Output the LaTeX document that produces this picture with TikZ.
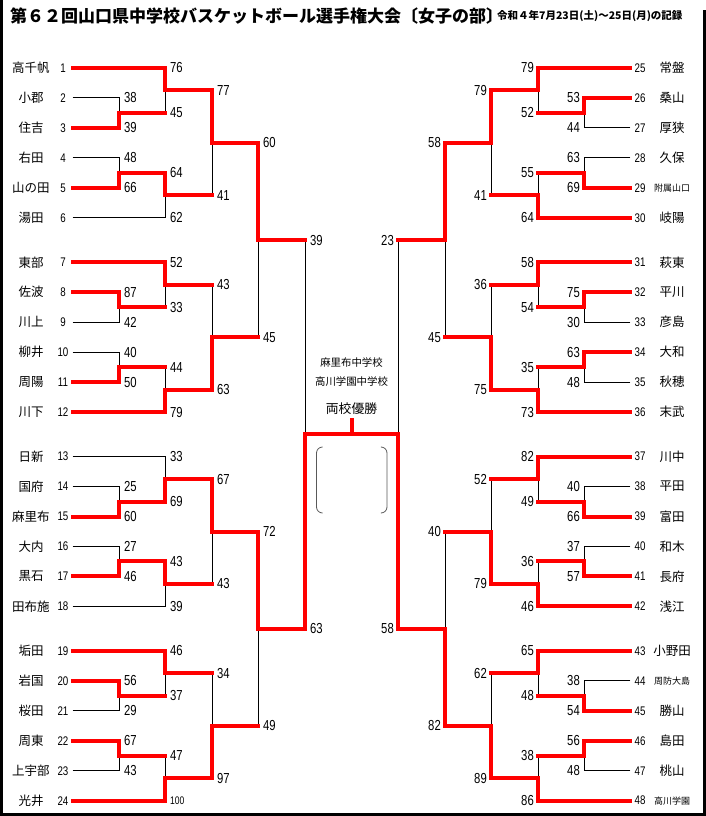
\documentclass[tikz,border=0pt]{standalone}
\usepackage{fontspec}
\setmainfont{Noto Sans CJK JP}
\newfontfamily\numfont[FakeStretch=0.78]{Liberation Sans}
\pgfdeclarelayer{back}
\pgfsetlayers{back,main}
\newcommand{\smallname}[1]{{\fontsize{9}{9}\selectfont #1}}
\newcommand{\hundred}{{\fontsize{11}{11}\selectfont 100}}
% #1 side l/r, #2 top, #3 bottom, #4 match, #5 next match, #6 #7 scores, #8 winner 1/2
\newcommand{\bout}[8]{%
  \ifnum#8=1
    \draw[win] (#2) -| (#4);
    \begin{pgfonlayer}{back}\draw[lose] (#3) -| (#4);\end{pgfonlayer}
  \else
    \draw[win] (#3) -| (#4);
    \begin{pgfonlayer}{back}\draw[lose] (#2) -| (#4);\end{pgfonlayer}
  \fi
  \draw[win] (#4) -- (#4 -| #5);
  \node[#1sc] (#4-t) at (#2 -| #4) {#6};
  \node[#1sc] (#4-b) at (#3 -| #4) {#7};
}
\begin{document}
\begin{tikzpicture}[x=1pt,y=-1pt,
  win/.style={red,line width=4pt,line cap=rect},
  lose/.style={black,line width=1pt},
  lsc/.style={anchor=west,inner sep=0pt,xshift=5pt,font=\numfont\fontsize{14.5}{15}\selectfont},
  rsc/.style={anchor=east,inner sep=0pt,xshift=-4pt,font=\numfont\fontsize{14.5}{15}\selectfont},
  teamno/.style={minimum width=19pt,inner sep=0pt,font=\numfont\fontsize{12.5}{13}\selectfont},
  teamname/.style={inner sep=0pt,font=\fontsize{12.5}{13}\selectfont}]
\useasboundingbox (0,0) rectangle (706,816);
% frame
\fill (0,0) rectangle (3,816);
\fill (703,10) rectangle (706,816);
\fill (0,813) rectangle (706,816);
% title
\node[anchor=west,inner sep=0pt,font=\bfseries\fontsize{17}{17}\selectfont] (title) at (10,16)
  {第６２回山口県中学校バスケットボール選手権大会〔女子の部〕};
\node[anchor=west,inner sep=0pt,font=\bfseries\fontsize{10.5}{11}\selectfont] (date) at (497,16)
  {令和４年7月23日(土)～25日(月)の記録};
% teams
\foreach \n/\t [count=\i from 0] in {1/高千帆,2/小郡,3/住吉,4/右田,5/山の田,6/湯田,
    7/東部,8/佐波,9/川上,10/柳井,11/周陽,12/川下,13/日新,14/国府,15/麻里布,16/大内,
    17/黒石,18/田布施,19/垢田,20/岩国,21/桜田,22/周東,23/上宇部,24/光井}{
  \pgfmathsetmacro\ty{68+194.3*int(\i/6)+29.95*mod(\i,6)}
  \node[teamname] (n\n) at (31,\ty) {\t};
  \node[teamno] (k\n) at (63,\ty) {\n};
}
\foreach \n/\t [count=\i from 0] in {25/常盤,26/桑山,27/厚狭,28/久保,29/\smallname{附属山口},30/岐陽,
    31/萩東,32/平川,33/彦島,34/大和,35/秋穂,36/末武,37/川中,38/平田,39/富田,40/和木,
    41/長府,42/浅江,43/小野田,44/\smallname{周防大島},45/勝山,46/島田,47/桃山,48/\smallname{高川学園}}{
  \pgfmathsetmacro\ty{68+194.3*int(\i/6)+29.95*mod(\i,6)}
  \node[teamname] (n\n) at (672,\ty) {\t};
  \node[teamno] (k\n) at (640,\ty) {\n};
}
% match points
\foreach \g in {0,...,3}{
  \pgfmathsetmacro\yo{68+194.3*\g}
  \coordinate (LA\g) at (119,\yo+44.93);
  \coordinate (LB\g) at (165,\yo+22.46);
  \coordinate (LC\g) at (119,\yo+104.8);
  \coordinate (LD\g) at (165,\yo+127.3);
  \coordinate (LE\g) at (212,\yo+74.9);
  \coordinate (RA\g) at (584,\yo+44.93);
  \coordinate (RB\g) at (538,\yo+22.46);
  \coordinate (RC\g) at (584,\yo+104.8);
  \coordinate (RD\g) at (538,\yo+127.3);
  \coordinate (RE\g) at (491,\yo+74.9);
}
\coordinate (LF0) at (258,240.05);
\coordinate (LF1) at (258,628.65);
\coordinate (RF0) at (445,240.05);
\coordinate (RF1) at (445,628.65);
\coordinate (LS) at (305,434.35);
\coordinate (RS) at (398,434.35);
\coordinate (C) at (351.5,434.35);
% left side
\bout{l}{k2.east}{k3.east}{LA0}{LB0}{38}{39}{2}
\bout{l}{k1.east}{LA0}{LB0}{LE0}{76}{45}{1}
\bout{l}{k4.east}{k5.east}{LC0}{LD0}{48}{66}{2}
\bout{l}{LC0}{k6.east}{LD0}{LE0}{64}{62}{1}
\bout{l}{LB0}{LD0}{LE0}{LF0}{77}{41}{1}
\bout{l}{k8.east}{k9.east}{LA1}{LB1}{87}{42}{1}
\bout{l}{k7.east}{LA1}{LB1}{LE1}{52}{33}{1}
\bout{l}{k10.east}{k11.east}{LC1}{LD1}{40}{50}{2}
\bout{l}{LC1}{k12.east}{LD1}{LE1}{44}{79}{2}
\bout{l}{LB1}{LD1}{LE1}{LF0}{43}{63}{2}
\bout{l}{k14.east}{k15.east}{LA2}{LB2}{25}{60}{2}
\bout{l}{k13.east}{LA2}{LB2}{LE2}{33}{69}{2}
\bout{l}{k16.east}{k17.east}{LC2}{LD2}{27}{46}{2}
\bout{l}{LC2}{k18.east}{LD2}{LE2}{43}{39}{1}
\bout{l}{LB2}{LD2}{LE2}{LF1}{67}{43}{1}
\bout{l}{k20.east}{k21.east}{LA3}{LB3}{56}{29}{1}
\bout{l}{k19.east}{LA3}{LB3}{LE3}{46}{37}{1}
\bout{l}{k22.east}{k23.east}{LC3}{LD3}{67}{43}{1}
\bout{l}{LC3}{k24.east}{LD3}{LE3}{47}{\hundred}{2}
\bout{l}{LB3}{LD3}{LE3}{LF1}{34}{97}{2}
\bout{l}{LE0}{LE1}{LF0}{LS}{60}{45}{1}
\bout{l}{LE2}{LE3}{LF1}{LS}{72}{49}{1}
\bout{l}{LF0}{LF1}{LS}{C}{39}{63}{2}
% right side
\bout{r}{k26.west}{k27.west}{RA0}{RB0}{53}{44}{1}
\bout{r}{k25.west}{RA0}{RB0}{RE0}{79}{52}{1}
\bout{r}{k28.west}{k29.west}{RC0}{RD0}{63}{69}{2}
\bout{r}{RC0}{k30.west}{RD0}{RE0}{55}{64}{2}
\bout{r}{RB0}{RD0}{RE0}{RF0}{79}{41}{1}
\bout{r}{k32.west}{k33.west}{RA1}{RB1}{75}{30}{1}
\bout{r}{k31.west}{RA1}{RB1}{RE1}{58}{54}{1}
\bout{r}{k34.west}{k35.west}{RC1}{RD1}{63}{48}{1}
\bout{r}{RC1}{k36.west}{RD1}{RE1}{35}{73}{2}
\bout{r}{RB1}{RD1}{RE1}{RF0}{36}{75}{2}
\bout{r}{k38.west}{k39.west}{RA2}{RB2}{40}{66}{2}
\bout{r}{k37.west}{RA2}{RB2}{RE2}{82}{49}{1}
\bout{r}{k40.west}{k41.west}{RC2}{RD2}{37}{57}{2}
\bout{r}{RC2}{k42.west}{RD2}{RE2}{36}{46}{2}
\bout{r}{RB2}{RD2}{RE2}{RF1}{52}{79}{2}
\bout{r}{k44.west}{k45.west}{RA3}{RB3}{38}{54}{2}
\bout{r}{k43.west}{RA3}{RB3}{RE3}{65}{48}{1}
\bout{r}{k46.west}{k47.west}{RC3}{RD3}{56}{48}{1}
\bout{r}{RC3}{k48.west}{RD3}{RE3}{38}{86}{2}
\bout{r}{RB3}{RD3}{RE3}{RF1}{62}{89}{2}
\bout{r}{RE0}{RE1}{RF0}{RS}{58}{45}{1}
\bout{r}{RE2}{RE3}{RF1}{RS}{40}{82}{2}
\bout{r}{RF0}{RF1}{RS}{C}{23}{58}{2}
% final
\node[font=\fontsize{10.4}{11}\selectfont] (sch1) at (351.5,363) {麻里布中学校};
\node[font=\fontsize{10.4}{11}\selectfont] (sch2) at (351.5,382) {高川学園中学校};
\node[font=\fontsize{12.8}{13}\selectfont] (yusho) at (351.5,409) {両校優勝};
\draw[win,line cap=butt] (C) -- (C |- yusho.south);
\draw[gray!70!black,line width=.8pt,rounded corners=6pt] (322,447) -- (316.5,447) -- (316.5,513) -- (322,513);
\draw[gray!70!black,line width=.8pt,rounded corners=6pt] (381.5,447) -- (387,447) -- (387,513) -- (381.5,513);
\end{tikzpicture}
\end{document}
